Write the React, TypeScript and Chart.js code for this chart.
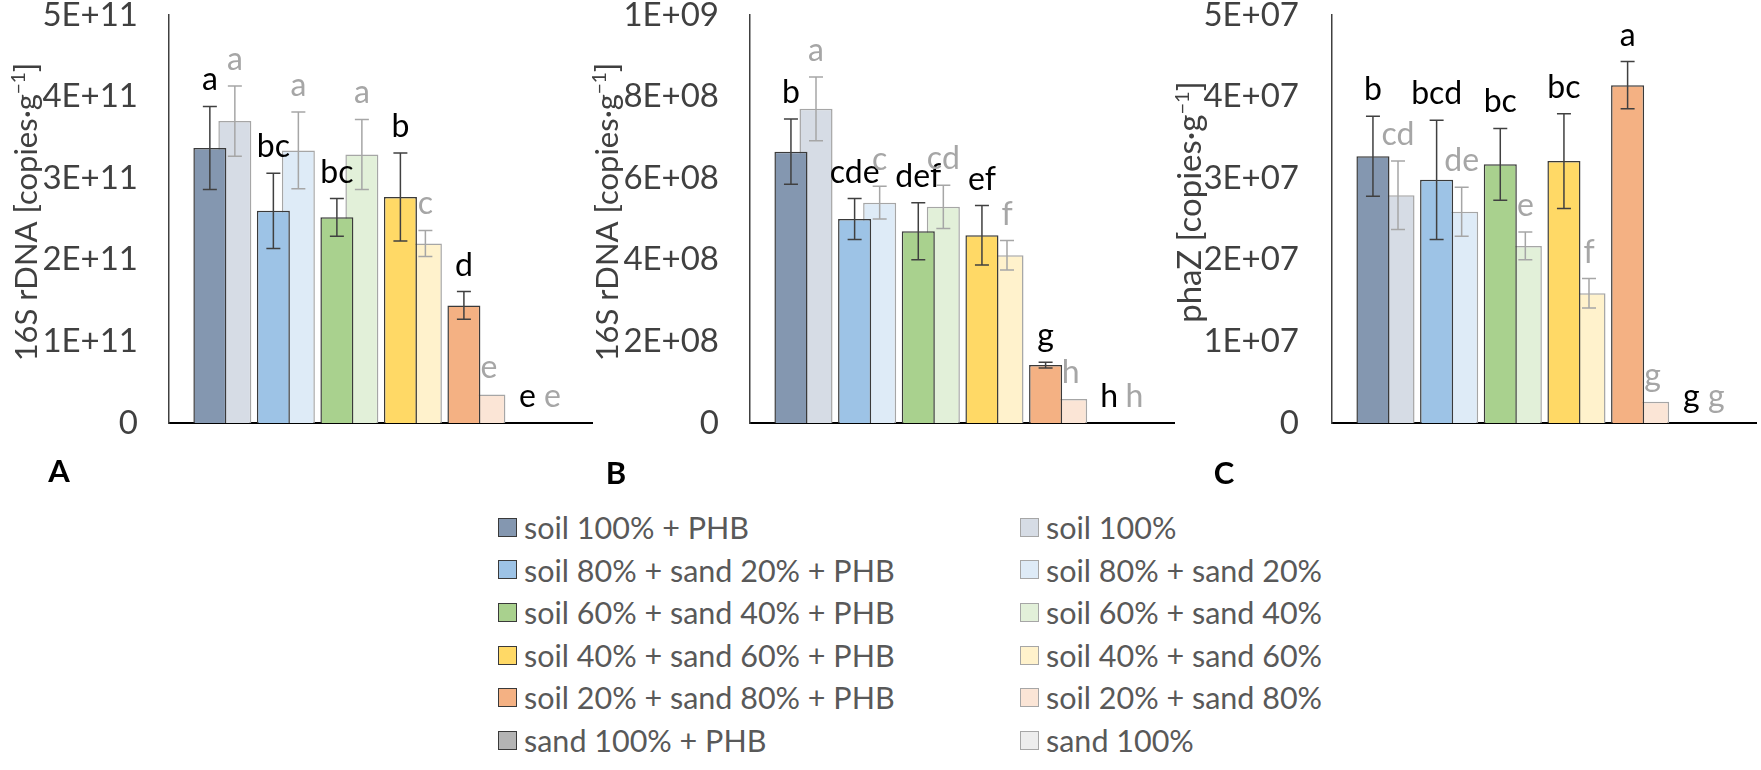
import React, { useEffect, useRef } from "react";
import { Chart, registerables } from "chart.js";

Chart.register(...registerables);

// ---------- data ----------
const categories = [
  "soil 100%",
  "soil 80% + sand 20%",
  "soil 60% + sand 40%",
  "soil 40% + sand 60%",
  "soil 20% + sand 80%",
  "sand 100%",
];
const phbSuffix = " + PHB";
const categoryPositions = [1, 2, 3, 4, 5, 6];

const phbColors = ["#8497B0", "#9DC3E6", "#A9D18E", "#FFD966", "#F4B183", "#B4B4B4"];
const ctlColors = ["#D6DCE5", "#DEEBF7", "#E2F0D9", "#FFF2CC", "#FBE5D6", "#EDEDED"];

// Panel A: 16S rDNA (copies/g)
const aPhb = [3.37e11, 2.6e11, 2.52e11, 2.77e11, 1.44e11, 0];
const aPhbErr = [0.51e11, 0.46e11, 0.23e11, 0.54e11, 0.17e11, 0];
const aCtl = [3.7e11, 3.34e11, 3.29e11, 2.2e11, 0.35e11, 0];
const aCtlErr = [0.43e11, 0.47e11, 0.43e11, 0.16e11, 0, 0];
const aPhbLetters = ["a", "bc", "bc", "b", "d", "e"];
const aCtlLetters = ["a", "a", "a", "c", "e", "e"];
const aTickValues = [0, 1e11, 2e11, 3e11, 4e11, 5e11];
const aTickLabels = ["0", "1E+11", "2E+11", "3E+11", "4E+11", "5E+11"];

// Panel B: 16S rDNA (copies/g)
const bPhb = [6.65e8, 5.0e8, 4.7e8, 4.6e8, 1.42e8, 0];
const bPhbErr = [0.8e8, 0.5e8, 0.7e8, 0.73e8, 0.07e8, 0];
const bCtl = [7.7e8, 5.4e8, 5.3e8, 4.11e8, 0.59e8, 0];
const bCtlErr = [0.78e8, 0.4e8, 0.53e8, 0.36e8, 0, 0];
const bPhbLetters = ["b", "cde", "def", "ef", "g", "h"];
const bCtlLetters = ["a", "c", "cd", "f", "h", "h"];
const bTickValues = [0, 2e8, 4e8, 6e8, 8e8, 1e9];
const bTickLabels = ["0", "2E+08", "4E+08", "6E+08", "8E+08", "1E+09"];

// Panel C: phaZ (copies/g)
const cPhb = [3.27e7, 2.98e7, 3.17e7, 3.21e7, 4.14e7, 0];
const cPhbErr = [0.49e7, 0.73e7, 0.44e7, 0.58e7, 0.29e7, 0];
const cCtl = [2.79e7, 2.59e7, 2.17e7, 1.59e7, 0.26e7, 0];
const cCtlErr = [0.42e7, 0.3e7, 0.17e7, 0.18e7, 0, 0];
const cPhbLetters = ["b", "bcd", "bc", "bc", "a", "g"];
const cCtlLetters = ["cd", "de", "e", "f", "g", "g"];
const cTickValues = [0, 1e7, 2e7, 3e7, 4e7, 5e7];
const cTickLabels = ["0", "1E+07", "2E+07", "3E+07", "4E+07", "5E+07"];

// ---------- styling ----------
const FONT = "Lato";
const TICK_SIZE = 33;
const LABEL_SIZE = 32;
const CANVAS_H = 500;
const PLOT_TOP = 15;
const PLOT_BOTTOM = 423;

type PanelCfg = {
  left: number;
  width: number;
  axisLeft: number;
  axisRight: number;
  tickPad: number;
  titleMain: string;
  titleEnd: string;
  titleSize: number;
  titleX: number;
  titleY: number;
  letter: string;
  letterX: number;
  letterY: number;
  phb: number[];
  phbErr: number[];
  ctl: number[];
  ctlErr: number[];
  phbLetters: string[];
  ctlLetters: string[];
  tickValues: number[];
  tickLabels: string[];
};

function Panel({ cfg }: { cfg: PanelCfg }) {
  const ref = useRef<HTMLCanvasElement | null>(null);
  useEffect(() => {
    if (!ref.current) return;
    const annotate = {
      id: "annotate",
      afterDatasetsDraw(chart: any) {
        const ctx = chart.ctx;
        const ys = chart.scales.y;
        chart.data.datasets.forEach((ds: any, di: number) => {
          const meta = chart.getDatasetMeta(di);
          meta.data.forEach((el: any, i: number) => {
            const v = ds.data[i].y;
            const e = ds.errors[i];
            const x = el.x;
            if (e > 0) {
              const yt = ys.getPixelForValue(v + e);
              const yb = ys.getPixelForValue(v - e);
              ctx.save();
              ctx.strokeStyle = ds.errColor;
              ctx.lineWidth = 1.5;
              ctx.beginPath();
              ctx.moveTo(x, yt);
              ctx.lineTo(x, yb);
              ctx.moveTo(x - 7, yt);
              ctx.lineTo(x + 7, yt);
              ctx.moveTo(x - 7, yb);
              ctx.lineTo(x + 7, yb);
              ctx.stroke();
              ctx.restore();
            }
            const top = ys.getPixelForValue(v + e);
            ctx.save();
            ctx.fillStyle = ds.letterColor;
            ctx.font = `${LABEL_SIZE}px ${FONT}`;
            ctx.textAlign = "center";
            ctx.textBaseline = "alphabetic";
            ctx.fillText(ds.letters[i], x, top - 16);
            ctx.restore();
          });
        });
      },
      afterDraw(chart: any) {
        const ctx = chart.ctx;
        // y-axis title with superscript
        ctx.save();
        ctx.fillStyle = "#404040";
        ctx.textBaseline = "alphabetic";
        ctx.textAlign = "left";
        const mainFont = `${cfg.titleSize}px ${FONT}`;
        const supFont = `${Math.round(cfg.titleSize * 0.62)}px ${FONT}`;
        const sup = "\u22121";
        ctx.font = mainFont;
        const w1 = ctx.measureText(cfg.titleMain).width;
        const w3 = ctx.measureText(cfg.titleEnd).width;
        ctx.font = supFont;
        const w2 = ctx.measureText(sup).width;
        const total = w1 + w2 + w3;
        ctx.translate(cfg.titleX, cfg.titleY);
        ctx.rotate(-Math.PI / 2);
        let xx = -total / 2;
        const base = 11;
        ctx.font = mainFont;
        ctx.fillText(cfg.titleMain, xx, base);
        xx += w1;
        ctx.font = supFont;
        ctx.fillText(sup, xx, base - 12);
        xx += w2;
        ctx.font = mainFont;
        ctx.fillText(cfg.titleEnd, xx, base);
        ctx.restore();
        // panel letter
        ctx.save();
        ctx.fillStyle = "#000";
        ctx.font = `bold 31px ${FONT}`;
        ctx.textAlign = "center";
        ctx.textBaseline = "middle";
        ctx.fillText(cfg.letter, cfg.letterX, cfg.letterY);
        ctx.restore();
      },
    };

    const chart = new Chart(ref.current, {
      type: "bar",
      data: {
        datasets: [
          {
            label: "PHB",
            data: categoryPositions.map((x, i) => ({ x, y: cfg.phb[i] })),
            backgroundColor: phbColors,
            borderColor: "#3A3A3A",
            borderWidth: 1.5,
            categoryPercentage: 0.787,
            barPercentage: 1.32,
            errors: cfg.phbErr,
            letters: cfg.phbLetters,
            letterColor: "#000000",
            errColor: "#404040",
          } as any,
          {
            label: "control",
            data: categoryPositions.map((x, i) => ({ x, y: cfg.ctl[i] })),
            backgroundColor: ctlColors,
            borderColor: "#A6A6A6",
            borderWidth: 1.5,
            categoryPercentage: 0.787,
            barPercentage: 1.32,
            errors: cfg.ctlErr,
            letters: cfg.ctlLetters,
            letterColor: "#A6A6A6",
            errColor: "#A6A6A6",
          } as any,
        ],
      },
      options: {
        responsive: false,
        animation: false,
        layout: {
          padding: {
            top: PLOT_TOP,
            bottom: CANVAS_H - PLOT_BOTTOM,
            left: 0,
            right: cfg.width - cfg.axisRight,
          },
        },
        plugins: {
          legend: { display: false },
          tooltip: { enabled: false },
        },
        scales: {
          x: {
            type: "linear",
            min: 0.16,
            max: 6.82,
            offset: false,
            grid: { display: false, drawTicks: false },
            ticks: { display: false },
            border: { display: true, color: "#000000", width: 2 },
            afterBuildTicks: (s: any) => {
              s.ticks = categoryPositions.map((v) => ({ value: v }));
            },
            afterFit: (s: any) => {
              s.height = 0;
            },
          },
          y: {
            type: "linear",
            min: cfg.tickValues[0],
            max: cfg.tickValues[cfg.tickValues.length - 1],
            grid: { display: false, drawTicks: true, tickLength: cfg.tickPad },
            border: { display: true, color: "#404040", width: 1.5 },
            ticks: {
              padding: 0,
              color: "#404040",
              font: { family: FONT, size: TICK_SIZE, lineHeight: 0.85 },
              callback: (v: any) => {
                const idx = cfg.tickValues.indexOf(Number(v));
                return idx >= 0 ? cfg.tickLabels[idx] : "";
              },
            },
            afterBuildTicks: (s: any) => {
              s.ticks = cfg.tickValues.map((v) => ({ value: v }));
            },
            afterFit: (s: any) => {
              s.width = cfg.axisLeft;
            },
          },
        },
      } as any,
      plugins: [annotate],
    });
    return () => chart.destroy();
  }, [cfg]);

  return (
    <canvas
      ref={ref}
      width={cfg.width}
      height={CANVAS_H}
      style={{ position: "absolute", left: cfg.left, top: 0, width: cfg.width, height: CANVAS_H }}
    />
  );
}

const panels: PanelCfg[] = [
  {
    left: 0, width: 600, axisLeft: 169, axisRight: 592, tickPad: 31,
    titleMain: "16S rDNA [copies\u00B7g", titleEnd: "]", titleSize: 31, titleX: 26, titleY: 212,
    letter: "A", letterX: 59, letterY: 472,
    phb: aPhb, phbErr: aPhbErr, ctl: aCtl, ctlErr: aCtlErr,
    phbLetters: aPhbLetters, ctlLetters: aCtlLetters,
    tickValues: aTickValues, tickLabels: aTickLabels,
  },
  {
    left: 580, width: 600, axisLeft: 170, axisRight: 594, tickPad: 31,
    titleMain: "16S rDNA [copies\u00B7g", titleEnd: "]", titleSize: 31, titleX: 27, titleY: 212,
    letter: "B", letterX: 36, letterY: 474,
    phb: bPhb, phbErr: bPhbErr, ctl: bCtl, ctlErr: bCtlErr,
    phbLetters: bPhbLetters, ctlLetters: bCtlLetters,
    tickValues: bTickValues, tickLabels: bTickLabels,
  },
  {
    left: 1161, width: 600, axisLeft: 171, axisRight: 595, tickPad: 33,
    titleMain: "phaZ [copies\u00B7g", titleEnd: "]", titleSize: 33, titleX: 29, titleY: 202,
    letter: "C", letterX: 63, letterY: 474,
    phb: cPhb, phbErr: cPhbErr, ctl: cCtl, ctlErr: cCtlErr,
    phbLetters: cPhbLetters, ctlLetters: cCtlLetters,
    tickValues: cTickValues, tickLabels: cTickLabels,
  },
];

function LegendColumn({ left, labels, colors, border }: { left: number; labels: string[]; colors: string[]; border: string }) {
  return (
    <div style={{ position: "absolute", left, top: 506 }}>
      {labels.map((lab, i) => (
        <div key={i} style={{ display: "flex", alignItems: "center", height: 42.6 }}>
          <div
            style={{
              width: 17,
              height: 17,
              background: colors[i],
              border: `1.5px solid ${border}`,
              marginRight: 7,
              flex: "none",
            }}
          />
          <span style={{ fontFamily: FONT, fontSize: 30.5, color: "#595959", lineHeight: 1, whiteSpace: "nowrap" }}>{lab}</span>
        </div>
      ))}
    </div>
  );
}

export default function App() {
  return (
    <div style={{ position: "absolute", left: 0, top: 0, width: 1761, height: 770, background: "#fff", overflow: "hidden" }}>
      {panels.map((p, i) => (
        <Panel key={i} cfg={p} />
      ))}
      <LegendColumn left={498} labels={categories.map((c) => c + phbSuffix)} colors={phbColors} border="#3A3A3A" />
      <LegendColumn left={1020} labels={categories} colors={ctlColors} border="#A6A6A6" />
    </div>
  );
}
